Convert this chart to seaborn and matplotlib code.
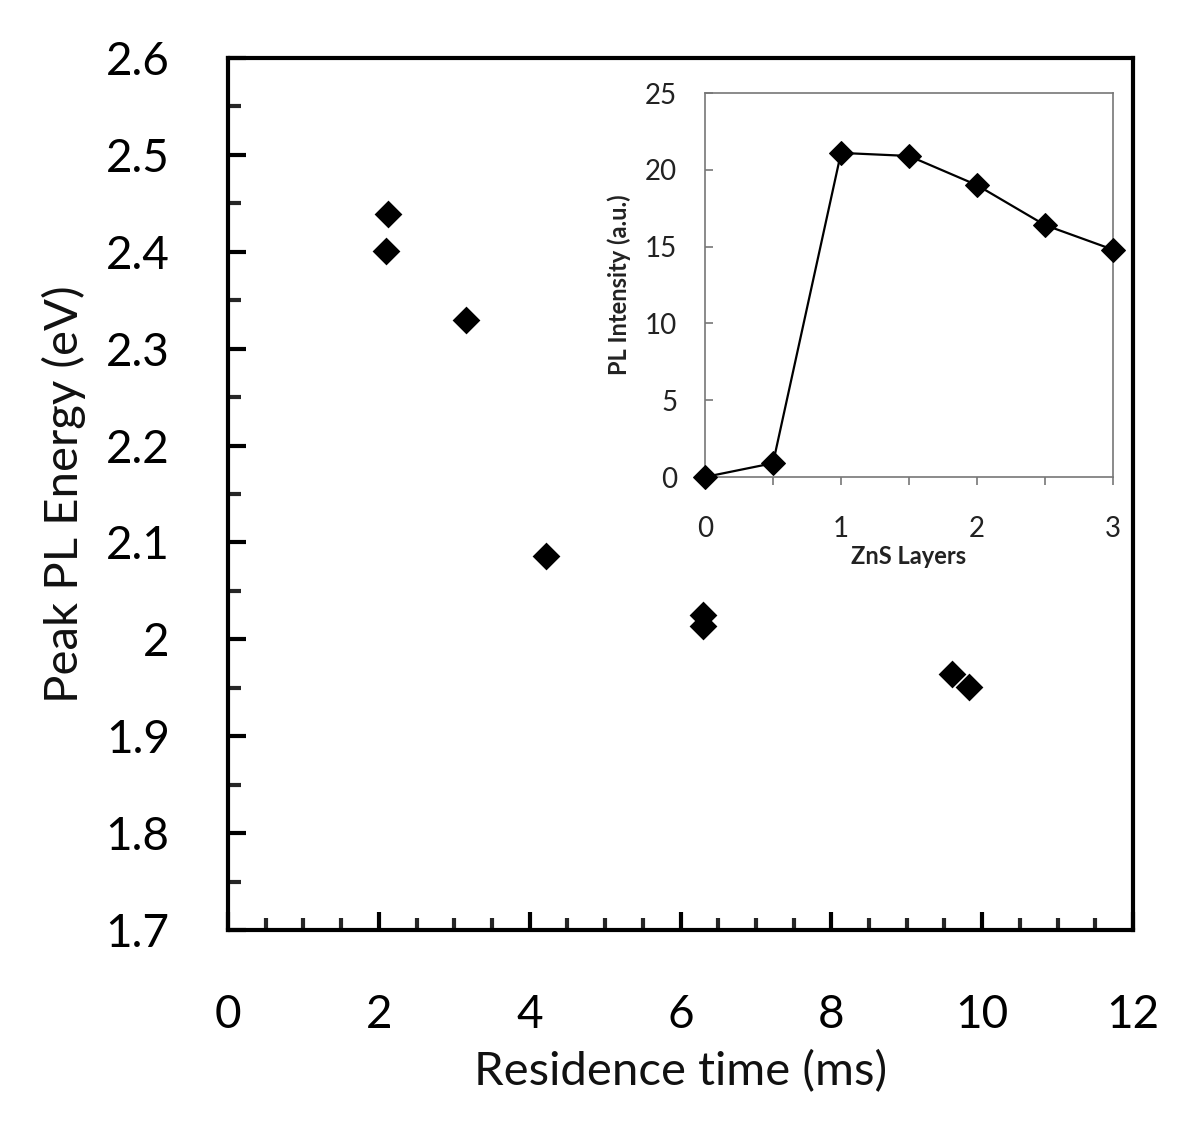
import matplotlib
matplotlib.use("Agg")
import matplotlib.pyplot as plt
from matplotlib.ticker import MultipleLocator, FuncFormatter
import seaborn as sns
import pandas as pd

sns.set_theme(style="white")
plt.rcParams['font.family'] = ['Lato', 'DejaVu Sans']

# Main data
residence_time = [2.12, 2.09, 3.15, 4.21, 6.30, 6.30, 9.60, 9.83]
peak_energy = [2.439, 2.401, 2.330, 2.086, 2.025, 2.014, 1.964, 1.951]

# Inset data
zns_layers = [0, 0.5, 1, 1.5, 2, 2.5, 3]
pl_intensity = [0.0, 0.9, 21.1, 20.9, 19.0, 16.4, 14.8]

W, H = 1200, 1137
fig = plt.figure(figsize=(W / 100, H / 100), dpi=100)

# Main axes
ax = fig.add_axes([228 / W, 1 - 930 / H, (1133 - 228) / W, (930 - 58) / H])
df = pd.DataFrame({"t": residence_time, "E": peak_energy})
sns.scatterplot(data=df, x="t", y="E", ax=ax, marker="D", s=200,
                color="black", edgecolor="black", linewidth=0)
ax.set_xlim(0, 12)
ax.set_ylim(1.7, 2.6)
ax.xaxis.set_major_locator(MultipleLocator(2))
ax.xaxis.set_minor_locator(MultipleLocator(0.5))
ax.yaxis.set_major_locator(MultipleLocator(0.1))
ax.yaxis.set_minor_locator(MultipleLocator(0.05))
ax.yaxis.set_major_formatter(FuncFormatter(lambda v, p: f"{v:.1f}".rstrip('0').rstrip('.')))
ax.xaxis.set_major_formatter(FuncFormatter(lambda v, p: f"{v:g}"))
ax.tick_params(axis="both", which="major", direction="in", length=13, width=3,
               labelsize=33, colors="black", bottom=True, left=True)
ax.tick_params(axis="both", which="minor", direction="in", length=9, width=3,
               bottom=True, left=True)
ax.tick_params(axis="x", which="major", pad=46)
ax.tick_params(axis="y", which="major", pad=42)
for s in ax.spines.values():
    s.set_visible(True)
    s.set_color("black")
    s.set_linewidth(3)
ax.set_xlabel("Residence time (ms)", fontsize=34, labelpad=10, color="#111111")
ax.set_ylabel("Peak PL Energy (eV)", fontsize=34, labelpad=14, color="#111111")

# Inset axes
axi = fig.add_axes([705 / W, 1 - 477 / H, (1113 - 705) / W, (477 - 93) / H])
dfi = pd.DataFrame({"layers": zns_layers, "I": pl_intensity})
sns.lineplot(data=dfi, x="layers", y="I", ax=axi, color="black", linewidth=1.6,
             marker="D", markersize=12, markeredgecolor="black", markerfacecolor="black",
             clip_on=False, zorder=5)
axi.set_xlim(0, 3)
axi.set_ylim(0, 25)
axi.xaxis.set_major_locator(MultipleLocator(1))
axi.xaxis.set_minor_locator(MultipleLocator(0.5))
axi.yaxis.set_major_locator(MultipleLocator(5))
axi.tick_params(axis="x", which="both", direction="out", length=6, width=1.2,
                color="#777777", bottom=True)
axi.tick_params(axis="y", which="major", direction="in", length=6, width=1.2,
                color="#777777", left=True)
axi.tick_params(axis="x", which="major", labelsize=20, pad=22, labelcolor="#222222")
axi.tick_params(axis="y", which="major", labelsize=20, pad=20, labelcolor="#222222")
for s in axi.spines.values():
    s.set_visible(True)
    s.set_color("#777777")
    s.set_linewidth(1.2)
axi.set_xlabel("ZnS Layers", fontsize=17, fontweight="bold", labelpad=2, color="#222222")
axi.set_ylabel("PL Intensity (a.u.)", fontsize=17, fontweight="bold", labelpad=10, color="#222222")

fig.savefig("out.png", dpi=100, facecolor="white")
